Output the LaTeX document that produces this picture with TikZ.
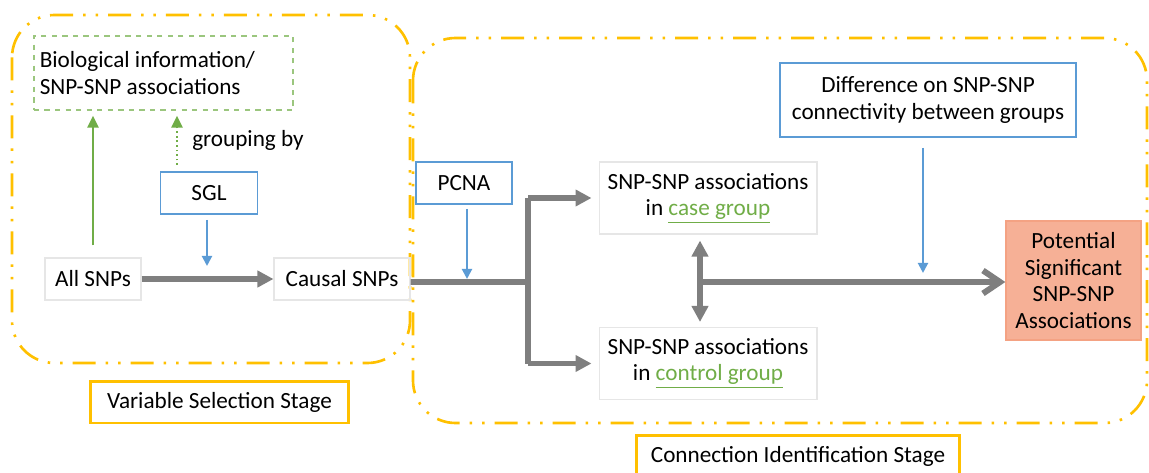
\documentclass[tikz,border=0pt]{standalone}
\usepackage{fontspec}
\setmainfont{Carlito}
\usetikzlibrary{arrows.meta}
\definecolor{stageyellow}{HTML}{FFC000}
\definecolor{flowblue}{HTML}{5B9BD5}
\definecolor{biogreen}{HTML}{70AD47}
\definecolor{flowgray}{HTML}{7F7F7F}
\definecolor{resultfill}{HTML}{F6B096}
\definecolor{resultline}{HTML}{F4A283}
\definecolor{softline}{HTML}{E6E6E6}

\begin{document}
\begin{tikzpicture}[x=0.02cm,y=-0.02cm,
  font=\fontsize{13.2}{15}\selectfont,
  plainbox/.style={draw=softline,line width=0.6pt,inner sep=2pt},
  bluebox/.style={draw=flowblue,line width=1.1pt,inner sep=2pt},
  stagebox/.style={draw=stageyellow,line width=1.7pt,inner sep=2pt,minimum height=0.84cm},
  container/.style={draw=stageyellow,line width=1.5pt,rounded corners=0.85cm,
    dash pattern=on 4.6mm off 2mm on 0.5mm off 2mm on 0.5mm off 2mm},
  grayarrow/.style={draw=flowgray,line width=3.4pt,-{Triangle[length=3.2mm,width=3.2mm]}},
  grayline/.style={draw=flowgray,line width=3.4pt},
  bluearrow/.style={draw=flowblue,line width=1.2pt,-{Triangle[length=2mm,width=2mm]}},
  greenarrow/.style={draw=biogreen,line width=1.6pt,-{Triangle[length=2.4mm,width=2.2mm]}},
  dotarrow/.style={draw=biogreen,line width=1.6pt,dash pattern=on 1pt off 1.6pt,
    -{Triangle[length=2.4mm,width=2.2mm]}}]
\useasboundingbox (0,0) rectangle (1149,473);
\clip (0,0) rectangle (1149,473);

% stage frames
\draw[container] (12,15) rectangle (410,363);
\draw[container] (413,38) rectangle (1147,423);

% variable selection stage
\node[draw=biogreen!70,dashed,line width=0.8pt,align=flush left,text width=4.95cm,
  minimum width=5.18cm,minimum height=1.48cm] (bio) at (163.5,73)
  {Biological information/\\SNP-SNP associations};
\node[bluebox,minimum width=1.94cm,minimum height=0.84cm] (sgl) at (209,193) {SGL};
\node (grp) at (248,140) {grouping by};
\node[plainbox,minimum width=1.92cm,minimum height=0.84cm] (all) at (93,279) {All SNPs};
\node[plainbox,minimum width=2.72cm,minimum height=0.84cm] (causal) at (342,279) {Causal SNPs};
\node[stagebox,minimum width=5.18cm] (vss) at (219.5,402) {Variable Selection Stage};

\draw[greenarrow,shorten <=12*0.02cm,shorten >=5*0.02cm] (all.north) -- (all.north |- bio.south);
\draw[dotarrow,shorten <=6*0.02cm,shorten >=5*0.02cm]
  ([xshift=-0.64cm]sgl.north) -- ([xshift=-0.64cm]sgl.north |- bio.south);
\draw[grayarrow] (all.east) -- (causal.west);
\draw[bluearrow,shorten <=5*0.02cm] ([xshift=-0.04cm]sgl.south) -- ++(0,51);

% connection identification stage
\node[bluebox,minimum width=1.92cm,minimum height=0.84cm] (pcna) at (464,183) {PCNA};
\node[plainbox,minimum width=4.36cm,minimum height=1.44cm,align=center] (case) at (708,198)
  {SNP-SNP associations\\in {\color{biogreen}\underline{case group}}};
\node[plainbox,minimum width=4.36cm,minimum height=1.44cm,align=center] (ctrl) at (708,363.5)
  {SNP-SNP associations\\in {\color{biogreen}\underline{control group}}};
\node[bluebox,minimum width=5.92cm,minimum height=1.48cm,align=center] (diff) at (928,100)
  {Difference on SNP-SNP\\connectivity between groups};
\node[draw=resultline,fill=resultfill,line width=0.8pt,minimum width=2.7cm,
  minimum height=2.38cm,align=center] (result) at (1073.5,280.5)
  {Potential\\Significant\\SNP-SNP\\Associations};
\node[stagebox,minimum width=6.48cm] (cis) at (798,456) {Connection Identification Stage};

\coordinate (fork) at (528,282);
\coordinate (meet) at (700,282);
\draw[grayline] ([yshift=-0.06cm]causal.east) -- (fork);
\draw[grayline] (fork |- case.west) -- (fork |- ctrl.west);
\draw[grayarrow,shorten >=7*0.02cm] (fork |- case.west) -- (case.west);
\draw[grayarrow,shorten >=7*0.02cm] (fork |- ctrl.west) -- (ctrl.west);
\draw[bluearrow,shorten <=4*0.02cm] ([xshift=0.06cm]pcna.south) -- ++(0,74);
\draw[grayline,{Triangle[length=3.2mm,width=3.2mm]}-{Triangle[length=3.2mm,width=3.2mm]},
  shorten <=6*0.02cm,shorten >=5*0.02cm] (meet |- case.south) -- (meet |- ctrl.north);
\draw[grayline,-{Straight Barb[length=3.4mm,width=4.6mm]}] (meet) -- (result.west |- meet);
\draw[bluearrow,shorten <=10*0.02cm] ([xshift=-0.1cm]diff.south) -- ++(0,135);
\end{tikzpicture}
\end{document}
